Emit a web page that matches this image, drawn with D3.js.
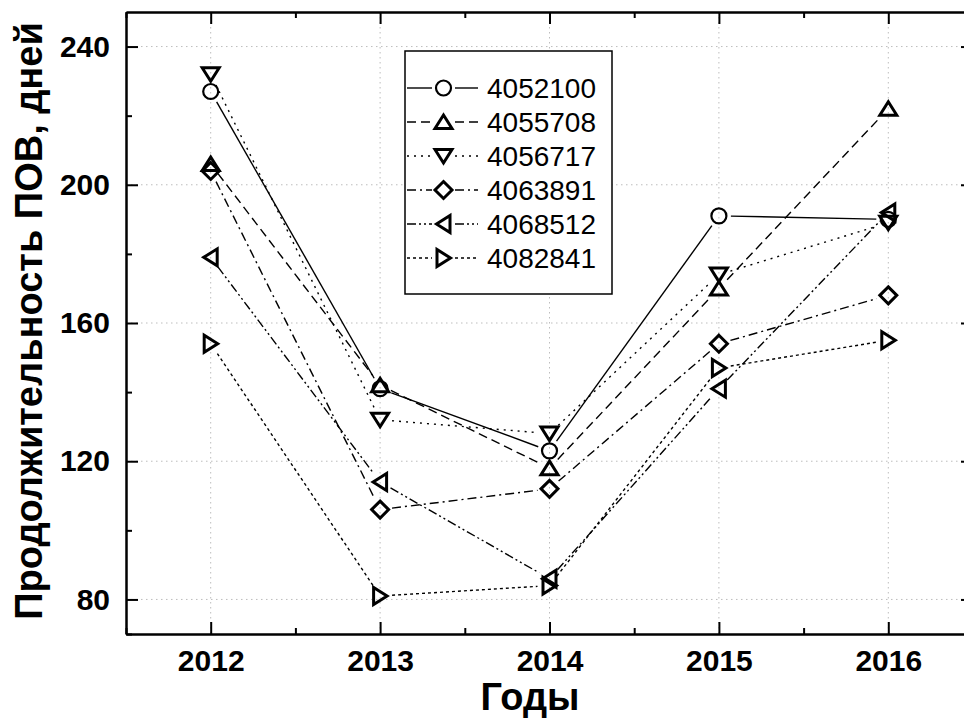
<!DOCTYPE html>
<html>
<head>
<meta charset="utf-8">
<script src="https://cdn.jsdelivr.net/npm/d3@7"></script>
<style>
  body { margin: 0; background: white; }
  text { font-family: "Liberation Sans", Arial, sans-serif; }
</style>
</head>
<body>
<script>
// data
var years = [2012, 2013, 2014, 2015, 2016]
var seriesNames = ["4052100", "4055708", "4056717", "4063891", "4068512", "4082841"]
var s4052100 = [227, 141, 123, 191, 190]
var s4055708 = [206, 142, 118, 170, 222]
var s4056717 = [232, 132, 128, 174, 189]
var s4063891 = [204, 106, 112, 154, 168]
var s4068512 = [179, 114, 86, 141, 192]
var s4082841 = [154, 81, 84, 147, 155]
var seriesValues = [s4052100, s4055708, s4056717, s4063891, s4068512, s4082841]
var yTicks = [80, 120, 160, 200, 240]
var yMinor = [70, 100, 140, 180, 220]
var xMinor = [2011.5, 2012.5, 2013.5, 2014.5, 2015.5, 2016.5]
var xTitle = "Годы"
var yTitle = "Продолжительность ПОВ, дней"

// look of each series
var styles = [
  {marker: "circle",  dash: null},
  {marker: "up",      dash: "9,5"},
  {marker: "down",    dash: "2,5"},
  {marker: "diamond", dash: "9,4,2,4"},
  {marker: "left",    dash: "9,3,2,3,2,3"},
  {marker: "right",   dash: "3,3"}
]

var margin = {top: 12, left: 126}
var width = 973 - margin.left,
    height = 634 - margin.top

var svg = d3.select("body")
  .append("svg")
  .attr("width", 964)
  .attr("height", 726)

var g = svg.append("g")
  .attr("transform", "translate(" + margin.left + "," + margin.top + ")")

var x = d3.scaleLinear().domain([2011.5, 2016.5]).range([0, width])
var y = d3.scaleLinear().domain([70, 250]).range([height, 0])

function markerPath(type) {
  if (type == "circle") return "M-7.5,0A7.5,7.5 0 1,1 7.5,0A7.5,7.5 0 1,1 -7.5,0Z"
  if (type == "up") return "M0,-7L8.5,6.5L-8.5,6.5Z"
  if (type == "down") return "M0,7L8.5,-6.5L-8.5,-6.5Z"
  if (type == "left") return "M-7,0L6.5,-8.5L6.5,8.5Z"
  if (type == "right") return "M7,0L-6.5,-8.5L-6.5,8.5Z"
  return "M0,-8.5L8.5,0L0,8.5L-8.5,0Z"
}

// grid
g.append("g")
  .selectAll("line.gy")
  .data(yTicks)
  .enter()
  .append("line")
  .attr("x1", 0).attr("x2", width)
  .attr("y1", d => y(d)).attr("y2", d => y(d))
  .attr("stroke", "#bdbdbd")
  .attr("stroke-dasharray", "1.5,3.5")
g.append("g")
  .selectAll("line.gx")
  .data(years)
  .enter()
  .append("line")
  .attr("y1", 0).attr("y2", height)
  .attr("x1", d => x(d)).attr("x2", d => x(d))
  .attr("stroke", "#bdbdbd")
  .attr("stroke-dasharray", "1.5,3.5")

// axes, ticks pointing inward on all four sides
function styleAxis(sel) {
  sel.selectAll("path, line").attr("stroke", "black").attr("stroke-width", 2)
  sel.selectAll("text")
    .attr("fill", "black")
    .style("font-size", "30px")
    .style("font-weight", "bold")
    .style("font-family", "'Liberation Sans', Arial, sans-serif")
}

g.append("g")
  .attr("transform", "translate(0," + height + ")")
  .call(d3.axisBottom(x).tickValues(years).tickFormat(d3.format("d")).tickSizeInner(-12).tickSizeOuter(0).tickPadding(16))
  .call(styleAxis)
g.append("g")
  .attr("transform", "translate(0," + height + ")")
  .call(d3.axisBottom(x).tickValues(xMinor).tickFormat("").tickSizeInner(-6).tickSizeOuter(0))
  .call(styleAxis)
g.append("g")
  .call(d3.axisTop(x).tickValues(years).tickFormat("").tickSizeInner(-12).tickSizeOuter(0))
  .call(styleAxis)
g.append("g")
  .call(d3.axisTop(x).tickValues(xMinor).tickFormat("").tickSizeInner(-6).tickSizeOuter(0))
  .call(styleAxis)

g.append("g")
  .call(d3.axisLeft(y).tickValues(yTicks).tickSizeInner(-12).tickSizeOuter(0).tickPadding(16))
  .call(styleAxis)
g.append("g")
  .call(d3.axisLeft(y).tickValues(yMinor).tickFormat("").tickSizeInner(-6).tickSizeOuter(0))
  .call(styleAxis)
g.append("g")
  .attr("transform", "translate(" + width + ",0)")
  .call(d3.axisRight(y).tickValues(yTicks).tickFormat("").tickSizeInner(-12).tickSizeOuter(0))
  .call(styleAxis)
g.append("g")
  .attr("transform", "translate(" + width + ",0)")
  .call(d3.axisRight(y).tickValues(yMinor).tickFormat("").tickSizeInner(-6).tickSizeOuter(0))
  .call(styleAxis)

// series: line segments stop short of the markers
var gap = 12
var line = d3.line()
seriesValues.forEach(function(vals, k) {
  var sg = g.append("g").attr("class", "series-" + seriesNames[k])
  var pts = vals.map((v, i) => [x(years[i]), y(v)])
  for (var i = 0; i < pts.length - 1; i++) {
    var p0 = pts[i], p1 = pts[i + 1]
    var dx = p1[0] - p0[0], dy = p1[1] - p0[1]
    var L = Math.sqrt(dx * dx + dy * dy)
    if (L <= 2 * gap) continue
    var ux = dx / L, uy = dy / L
    sg.append("path")
      .attr("d", line([[p0[0] + ux * gap, p0[1] + uy * gap], [p1[0] - ux * gap, p1[1] - uy * gap]]))
      .attr("fill", "none")
      .attr("stroke", "black")
      .attr("stroke-width", 1.4)
      .attr("stroke-dasharray", styles[k].dash)
  }
  sg.selectAll("path.mk")
    .data(pts)
    .enter()
    .append("path")
    .attr("class", "mk")
    .attr("transform", d => "translate(" + d[0] + "," + d[1] + ")")
    .attr("d", markerPath(styles[k].marker))
    .attr("fill", "none")
    .attr("stroke", "black")
    .attr("stroke-width", styles[k].marker == "circle" ? 2.2 : 3)
})

// legend
var legend = svg.append("g").attr("transform", "translate(405,51)")
legend.append("rect")
  .attr("width", 207)
  .attr("height", 243)
  .attr("fill", "white")
  .attr("stroke", "black")
  .attr("stroke-width", 1.5)
seriesNames.forEach(function(name, k) {
  var ly = 37 + k * 34
  var row = legend.append("g").attr("transform", "translate(0," + ly + ")")
  row.append("line")
    .attr("x1", 2).attr("x2", 27)
    .attr("stroke", "black").attr("stroke-width", 1.4)
    .attr("stroke-dasharray", styles[k].dash)
  row.append("line")
    .attr("x1", 50).attr("x2", 73)
    .attr("stroke", "black").attr("stroke-width", 1.4)
    .attr("stroke-dasharray", styles[k].dash)
  row.append("path")
    .attr("transform", "translate(38.5,0)")
    .attr("d", markerPath(styles[k].marker))
    .attr("fill", "none")
    .attr("stroke", "black")
    .attr("stroke-width", styles[k].marker == "circle" ? 2.2 : 3)
  row.append("text")
    .attr("x", 82)
    .attr("dy", "0.36em")
    .style("font-size", "28px")
    .text(name)
})

// axis titles
svg.append("text")
  .attr("x", 530)
  .attr("y", 710)
  .attr("text-anchor", "middle")
  .style("font-size", "38px")
  .style("font-weight", "bold")
  .text(xTitle)
svg.append("text")
  .attr("transform", "translate(42,321) rotate(-90)")
  .attr("text-anchor", "middle")
  .style("font-size", "38px")
  .style("font-weight", "bold")
  .text(yTitle)
</script>
</body>
</html>
